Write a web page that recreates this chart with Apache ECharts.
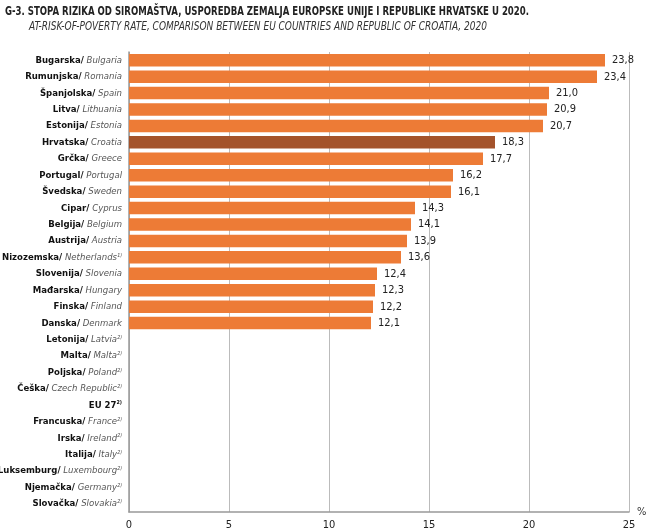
<!DOCTYPE html>
<html><head><meta charset="utf-8">
<script src="https://cdn.jsdelivr.net/npm/echarts@6/dist/echarts.min.js"></script>
<style>html,body{margin:0;padding:0;background:#fff}#c{width:654px;height:532px}</style>
</head><body><div id="c"></div>
<script>
const titleText = 'G-3. STOPA RIZIKA OD SIROMAŠTVA, USPOREDBA ZEMALJA EUROPSKE UNIJE I REPUBLIKE HRVATSKE U 2020.';
const subtitleText = 'AT-RISK-OF-POVERTY RATE, COMPARISON BETWEEN EU COUNTRIES AND REPUBLIC OF CROATIA, 2020';
const namesHr = ['Bugarska/','Rumunjska/','Španjolska/','Litva/','Estonija/','Hrvatska/','Grčka/','Portugal/','Švedska/','Cipar/','Belgija/','Austrija/','Nizozemska/','Slovenija/','Mađarska/','Finska/','Danska/','Letonija/','Malta/','Poljska/','Češka/','EU 27','Francuska/','Irska/','Italija/','Luksemburg/','Njemačka/','Slovačka/'];
const namesEn = ['Bulgaria','Romania','Spain','Lithuania','Estonia','Croatia','Greece','Portugal','Sweden','Cyprus','Belgium','Austria','Netherlands','Slovenia','Hungary','Finland','Denmark','Latvia','Malta','Poland','Czech Republic','','France','Ireland','Italy','Luxembourg','Germany','Slovakia'];
const notes = ['','','','','','','','','','','','','1)','','','','','2)','2)','2)','2)','2)','2)','2)','2)','2)','2)','2)'];
const values = [23.8,23.4,21.0,20.9,20.7,18.3,17.7,16.2,16.1,14.3,14.1,13.9,13.6,12.4,12.3,12.2,12.1,null,null,null,null,null,null,null,null,null,null,null];
const xTicks = [0,5,10,15,20,25];
const highlight = 'Hrvatska/';

const sup = {'1)':'¹⁾','2)':'²⁾'};
const cats = namesHr.map((n,i)=>i);
const FONT = '"DejaVu Sans Condensed","Liberation Sans Narrow",sans-serif';
const ctx = document.createElement('canvas').getContext('2d');
function fitScale(text, font, target){ctx.font=font;return target/ctx.measureText(text).width;}
const tFont = 'bold 13px "DejaVu Sans Condensed"';
const sFont = 'italic 12.5px "DejaVu Sans Condensed"';
const tScale = fitScale(titleText, tFont, 524);
const sScale = fitScale(subtitleText, sFont, 458);

const chart = echarts.init(document.getElementById('c'));
chart.setOption({
  animation:false,
  textStyle:{fontFamily:FONT},
  graphic:[
    {type:'text',x:5,y:5,scaleX:tScale,style:{text:titleText,font:tFont,fill:'#222'}},
    {type:'text',x:29,y:20,scaleX:sScale,style:{text:subtitleText,font:sFont,fill:'#333'}}
  ],
  grid:{left:129,right:25,top:52,bottom:20,containLabel:false,outerBoundsMode:'none'},
  xAxis:{type:'value',min:0,max:25,interval:5,
    axisLine:{show:true,lineStyle:{color:'#999',width:1.5}},
    axisTick:{show:false},
    splitLine:{show:true,lineStyle:{color:'#bbb',width:1}},
    axisLabel:{color:'#222',fontSize:11,margin:8,fontFamily:FONT,formatter:v=>xTicks.includes(v)?String(v):''},
    name:'%',nameLocation:'end',nameGap:8,nameTextStyle:{color:'#333',fontSize:11,fontFamily:FONT,padding:[0,0,22,0]}
  },
  yAxis:{type:'category',inverse:true,data:cats,
    axisLine:{show:true,lineStyle:{color:'#999',width:1.5}},
    axisTick:{show:false},
    axisLabel:{margin:7,fontSize:9.5,
      formatter:(v)=>{const i=+v;let s='{b|'+namesHr[i]+'}';if(namesEn[i])s+='{i| '+namesEn[i]+'}';if(notes[i])s+=(namesEn[i]?'{s|':'{sb|')+sup[notes[i]]+'}';return s;},
      rich:{
        b:{fontFamily:FONT,fontWeight:'bold',fontSize:9.5,color:'#111'},
        i:{fontFamily:FONT,fontStyle:'italic',fontSize:9.5,color:'#555'},
        s:{fontFamily:FONT,fontStyle:'italic',fontSize:8.5,color:'#555'},
        sb:{fontFamily:FONT,fontWeight:'bold',fontSize:8.5,color:'#111'}
      }}
  },
  series:[{type:'bar',barCategoryGap:'24%',
    data:values.map((v,i)=>({value:v,itemStyle:{color:namesHr[i]===highlight?'#a4532b':'#ed7b36'}})),
    label:{show:true,position:'right',distance:7,fontSize:11,color:'#222',fontFamily:FONT,
      formatter:p=>p.value==null?'':p.value.toFixed(1).replace('.',',')}
  }]
});
</script></body></html>
